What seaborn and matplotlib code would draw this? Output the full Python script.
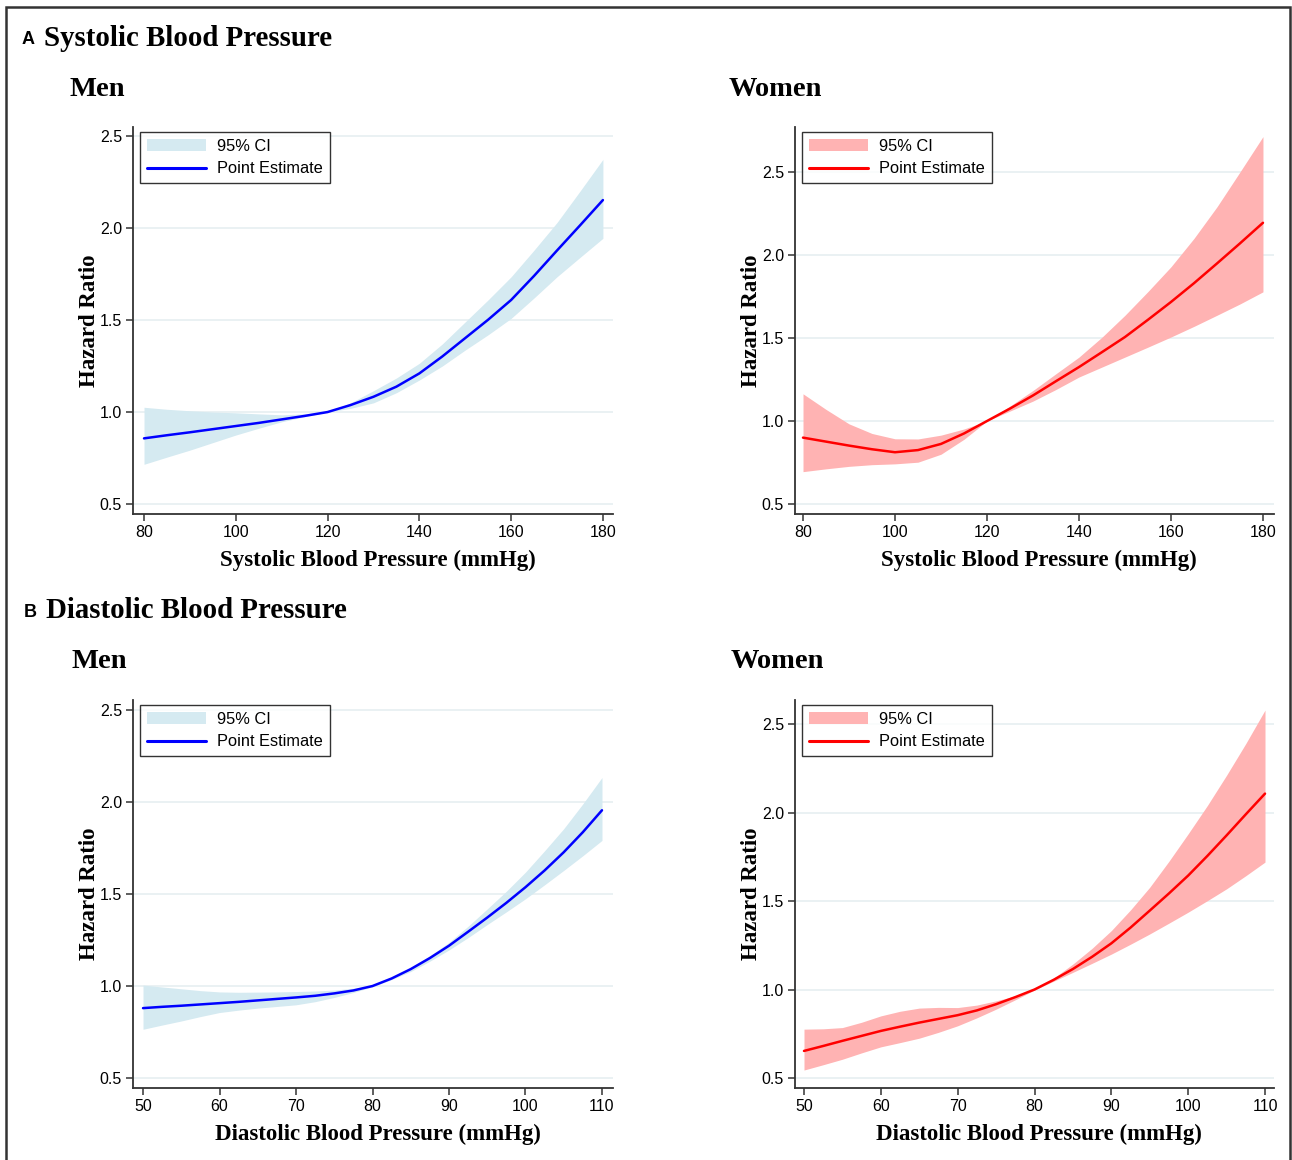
import pandas as pd
import seaborn as sns
import matplotlib.pyplot as plt
from matplotlib.patches import Patch, Rectangle
from matplotlib.lines import Line2D

sns.set_theme(style='white')
plt.rcParams['font.family'] = ['Liberation Sans', 'DejaVu Sans']
plt.rcParams['text.color'] = 'black'
plt.rcParams['axes.labelcolor'] = 'black'

# Systolic blood pressure (mmHg)
sbp = [80, 85, 90, 95, 100, 105, 110, 115, 120, 125, 130, 135, 140, 145, 150, 155, 160, 165, 170, 175, 180]
sbp_men_hr = [0.857, 0.874, 0.890, 0.907, 0.924, 0.941, 0.960, 0.979, 1.0, 1.038, 1.083, 1.138, 1.210,
              1.302, 1.402, 1.502, 1.609, 1.740, 1.878, 2.014, 2.152]
sbp_men_lo = [0.716, 0.755, 0.793, 0.834, 0.875, 0.912, 0.947, 0.975, 1.0, 1.020, 1.050, 1.105, 1.174,
              1.250, 1.337, 1.420, 1.509, 1.620, 1.735, 1.840, 1.944]
sbp_men_hi = [1.026, 1.015, 1.007, 1.000, 0.996, 0.990, 0.985, 0.990, 1.0, 1.050, 1.116, 1.185, 1.265,
              1.370, 1.490, 1.610, 1.735, 1.880, 2.030, 2.200, 2.373]
sbp_women_hr = [0.900, 0.876, 0.852, 0.830, 0.812, 0.825, 0.862, 0.925, 1.0, 1.075, 1.154, 1.240, 1.325,
                1.415, 1.506, 1.610, 1.717, 1.830, 1.949, 2.070, 2.194]
sbp_women_lo = [0.695, 0.712, 0.727, 0.737, 0.742, 0.752, 0.800, 0.890, 1.0, 1.060, 1.120, 1.190, 1.265,
                1.325, 1.385, 1.445, 1.506, 1.570, 1.637, 1.705, 1.778]
sbp_women_hi = [1.164, 1.070, 0.983, 0.925, 0.893, 0.892, 0.915, 0.952, 1.0, 1.090, 1.184, 1.285, 1.385,
                1.505, 1.637, 1.780, 1.929, 2.100, 2.290, 2.500, 2.713]

# Diastolic blood pressure (mmHg)
dbp = [50, 52.5, 55, 57.5, 60, 62.5, 65, 67.5, 70, 72.5, 75, 77.5, 80,
       82.5, 85, 87.5, 90, 92.5, 95, 97.5, 100, 102.5, 105, 107.5, 110]
dbp_men_hr = [0.880, 0.887, 0.893, 0.900, 0.907, 0.914, 0.922, 0.930, 0.938, 0.947, 0.960, 0.976, 1.0,
              1.041, 1.092, 1.152, 1.219, 1.295, 1.372, 1.452, 1.537, 1.628, 1.727, 1.836, 1.955]
dbp_men_lo = [0.765, 0.788, 0.810, 0.834, 0.856, 0.869, 0.880, 0.889, 0.898, 0.915, 0.938, 0.965, 0.996,
              1.035, 1.079, 1.135, 1.196, 1.263, 1.334, 1.403, 1.474, 1.550, 1.628, 1.708, 1.791]
dbp_men_hi = [1.005, 0.995, 0.985, 0.975, 0.968, 0.966, 0.967, 0.968, 0.970, 0.973, 0.978, 0.988, 1.0,
              1.045, 1.100, 1.165, 1.237, 1.325, 1.419, 1.515, 1.619, 1.735, 1.855, 1.990, 2.133]
dbp_women_hr = [0.653, 0.681, 0.710, 0.738, 0.766, 0.790, 0.813, 0.834, 0.855, 0.882, 0.917, 0.957, 1.0,
                1.055, 1.116, 1.185, 1.261, 1.350, 1.446, 1.543, 1.644, 1.755, 1.871, 1.990, 2.107]
dbp_women_lo = [0.545, 0.575, 0.606, 0.642, 0.676, 0.700, 0.725, 0.758, 0.795, 0.840, 0.889, 0.942, 0.997,
                1.047, 1.097, 1.148, 1.200, 1.256, 1.314, 1.375, 1.437, 1.502, 1.569, 1.643, 1.720]
dbp_women_hi = [0.776, 0.778, 0.785, 0.815, 0.851, 0.877, 0.895, 0.899, 0.898, 0.912, 0.936, 0.964, 1.0,
                1.065, 1.144, 1.233, 1.333, 1.450, 1.578, 1.725, 1.880, 2.040, 2.211, 2.390, 2.579]

sbp_ticks = [80, 100, 120, 140, 160, 180]
dbp_ticks = [50, 60, 70, 80, 90, 100, 110]
hr_ticks = [0.5, 1.0, 1.5, 2.0, 2.5]

men_fill, men_line = '#d5eaf1', '#0000ff'
women_fill, women_line = '#ffb3b3', '#ff0000'

fig = plt.figure(figsize=(12.92, 11.6), dpi=100)

W, H = 1292, 1160


def add_ax(l, t, r, b):
    return fig.add_axes([l / W, 1 - b / H, (r - l) / W, (b - t) / H])


panels = [
    # x, hr, lo, hi, fill, line, xticks, xlim, ylim, xlabel, box
    (sbp, sbp_men_hr, sbp_men_lo, sbp_men_hi, men_fill, men_line, sbp_ticks, (77.6, 182.2), (0.446, 2.549),
     'Systolic Blood Pressure (mmHg)', (133, 127, 613, 514)),
    (sbp, sbp_women_hr, sbp_women_lo, sbp_women_hi, women_fill, women_line, sbp_ticks, (78.26, 182.4), (0.44, 2.771),
     'Systolic Blood Pressure (mmHg)', (795, 127, 1274, 514)),
    (dbp, dbp_men_hr, dbp_men_lo, dbp_men_hi, men_fill, men_line, dbp_ticks, (48.69, 111.44), (0.446, 2.554),
     'Diastolic Blood Pressure (mmHg)', (133, 700, 613, 1088)),
    (dbp, dbp_women_hr, dbp_women_lo, dbp_women_hi, women_fill, women_line, dbp_ticks, (48.83, 111.17), (0.4435, 2.636),
     'Diastolic Blood Pressure (mmHg)', (795, 700, 1274, 1088)),
]

serif = ['Liberation Serif', 'DejaVu Serif']

for x, hr, lo, hi, fc, lc, xt, xl, yl, xlab, box in panels:
    ax = add_ax(*box)
    df = pd.DataFrame({'bp': x, 'hr': hr, 'lo': lo, 'hi': hi})
    for v in hr_ticks:
        ax.axhline(v, color='#e6eff1', lw=1.2, zorder=0)
    ax.fill_between(df['bp'], df['lo'], df['hi'], color=fc, lw=0, zorder=1)
    sns.lineplot(data=df, x='bp', y='hr', color=lc, lw=1.8, ax=ax, zorder=2)
    ax.set_xlim(*xl)
    ax.set_ylim(*yl)
    ax.set_xticks(xt)
    ax.set_yticks(hr_ticks)
    ax.set_yticklabels([f'{v:.1f}' for v in hr_ticks])
    for s in ['top', 'right']:
        ax.spines[s].set_visible(False)
    for s in ['left', 'bottom']:
        ax.spines[s].set_color('#333333')
        ax.spines[s].set_linewidth(1.3)
    ax.tick_params(axis='both', direction='out', length=5, width=1.1, color='#333333',
                   labelsize=11.5, labelcolor='black', pad=3, left=True, bottom=True)
    ax.set_xlabel(xlab, fontsize=16.5, fontweight='bold', family=serif, labelpad=8)
    ax.xaxis.set_label_coords(0.51, -0.092)
    ax.set_ylabel('Hazard Ratio', fontsize=16.5, fontweight='bold', family=serif, labelpad=0)
    handles = [Patch(facecolor=fc, edgecolor='none'), Line2D([0], [0], color=lc, lw=2.2)]
    leg = ax.legend(handles, ['95% CI', 'Point Estimate'], loc='upper left',
                    bbox_to_anchor=(7 / 480, 1 - 5 / 387), borderaxespad=0, fontsize=11.8,
                    frameon=True, fancybox=False, handlelength=3.6, handletextpad=0.7,
                    borderpad=0.42, labelspacing=0.45)
    leg.get_frame().set_edgecolor('black')
    leg.get_frame().set_linewidth(1.0)

# panel headers
fig.text(22 / W, 1 - 40 / H, 'A', fontsize=13, fontweight='bold', va='center', ha='left')
fig.text(44 / W, 1 - 38 / H, 'Systolic Blood Pressure', fontsize=20.8, fontweight='bold', family=serif,
         va='center', ha='left')
fig.text(24 / W, 1 - 612 / H, 'B', fontsize=13, fontweight='bold', va='center', ha='left')
fig.text(46 / W, 1 - 610 / H, 'Diastolic Blood Pressure', fontsize=20.8, fontweight='bold', family=serif,
         va='center', ha='left')
for xpos, ypos, txt in [(69, 89, 'Men'), (729, 89, 'Women'), (71, 662, 'Men'), (731, 662, 'Women')]:
    fig.text(xpos / W, 1 - ypos / H, txt, fontsize=20.5, fontweight='bold', family=serif, va='center', ha='left')

# outer frame
fig.patches.append(Rectangle((6 / W, -0.05), (1290 - 6) / W, 1.05 - 7 / H, transform=fig.transFigure,
                             fill=False, edgecolor='#333333', lw=1.8))

fig.savefig('out.png', dpi=100)
